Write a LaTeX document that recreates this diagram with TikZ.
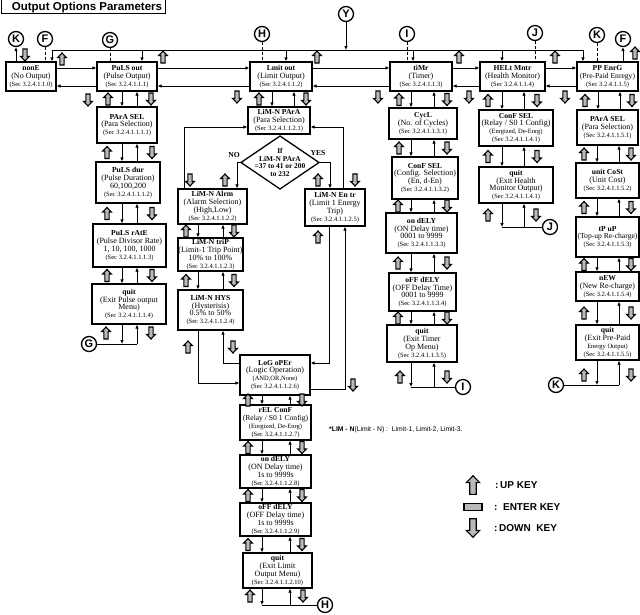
\documentclass[tikz,border=0pt]{standalone}
\usepackage{fontspec}
\setmainfont{Liberation Serif}
\newfontfamily\lsans{Liberation Sans}
\usetikzlibrary{arrows.meta,calc}

\newcommand\btit[1]{{\fontsize{7.6}{7.8}\selectfont\bfseries #1}}
\newcommand\stxt[1]{{\fontsize{6.5}{7.8}\selectfont #1}}

\tikzset{
 bx/.style={draw,line width=1.3pt,inner sep=0pt,align=center,fill=white,font=\fontsize{8}{7.8}\selectfont},
 ln/.style={line width=1pt},
 cn/.style={line width=1pt,-{Latex[length=4pt,width=3.6pt]}},
 dsh/.style={line width=1pt,dash pattern=on 3pt off 2pt},
 circ/.style={circle,draw,line width=1.3pt,minimum size=15pt,inner sep=0pt,fill=white,font=\lsans\bfseries\fontsize{11}{11}\selectfont},
 keyst/.style={draw=black,fill=gray!55,line width=1.1pt,line join=miter},
 upkey/.pic={\path[keyst] (0,-6) -- (4.3,-1.5) -- (2.1,-1.5) -- (2.1,6) -- (-2.1,6) -- (-2.1,-1.5) -- (-4.3,-1.5) -- cycle;},
 downkey/.pic={\path[keyst] (0,6) -- (4.3,1.5) -- (2.1,1.5) -- (2.1,-6) -- (-2.1,-6) -- (-2.1,1.5) -- (-4.3,1.5) -- cycle;},
}

\newcommand\mybox[6]{\node[bx,minimum width={#4-#2},minimum height={#5-#3}] (#1) at ({(#2+#4)/2},{(#3+#5)/2}) {#6};}
\newcommand\vlink[6]{%
 \draw[cn] (#1.south -| #3,0) -- (#2.north -| #3,0);
 \draw[cn] (#2.north -| #4,0) -- (#1.south -| #4,0);
 \pic at ($(#1.south -| #5,0)!0.5!(#2.north -| #5,0)$) {upkey};
 \pic at ($(#1.south -| #6,0)!0.5!(#2.north -| #6,0)$) {downkey};}
\newcommand\hlink[2]{%
 \draw[cn] (#1.east |- 0,68) -- (#2.west |- 0,68);
 \draw[cn] (#2.west |- 0,86) -- (#1.east |- 0,86);}

\begin{document}
\begin{tikzpicture}[x=1pt,y=-1pt]
\useasboundingbox (0,0) rectangle (640,614);
% title
\draw[line width=1pt] (1,-3) rectangle (165,13.5);
\node[anchor=base,inner sep=0pt,font=\lsans\bfseries\fontsize{11.5}{12}\selectfont] (title) at (87,10.5) {Output Options Parameters};

% circles (connectors)
\node[circ] (K1) at (16,39) {K};
\node[circ] (F1) at (45,39) {F};
\node[circ] (G1) at (110,40) {G};
\node[circ] (H1) at (262,34) {H};
\node[circ] (Y) at (346,14) {Y};
\node[circ] (I1) at (407,34) {I};
\node[circ] (J1) at (535,33) {J};
\node[circ] (K3) at (597,35) {K};
\node[circ] (F2) at (623,39) {F};
\node[circ] (G2) at (89,344) {G};
\node[circ] (H2) at (325,605) {H};
\node[circ] (I2) at (463,387) {I};
\node[circ] (J2) at (550,227) {J};
\node[circ] (K2) at (556,385) {K};

% top row
\mybox{nonE}{6}{62}{56}{91}{\btit{nonE}\\(No Output)\\\stxt{(Sec 3.2.4.1.1.0)}}
\mybox{pout}{97}{62}{157}{91}{\btit{PuLS out}\\(Pulse Output)\\\stxt{(Sec 3.2.4.1.1.1)}}
\mybox{lout}{250}{62}{312}{91}{\btit{Lmit out}\\(Limit Output)\\\stxt{(Sec 3.2.4.1.1.2)}}
\mybox{tmr}{390}{62}{452}{91}{\btit{tiMr}\\(Timer)\\\stxt{(Sec 3.2.4.1.1.3)}}
\mybox{helt}{480}{62}{545}{91}{\btit{HELt Mntr}\\(Health Monitor)\\\stxt{(Sec 3.2.4.1.1.4)}}
\mybox{pp}{577}{62}{638}{91}{\btit{PP EnrG}\\{\fontsize{7.6}{7.8}\selectfont(Pre-Paid Enregy)}\\\stxt{(Sec 3.2.4.1.1.5)}}

% pulse column
\mybox{psel}{97}{107}{157}{143}{\btit{PArA SEL}\\(Para Selection)\\\stxt{(Sec 3.2.4.1.1.1.1)}}
\mybox{pdur}{96}{162}{160}{203}{\btit{PuLS dur}\\(Pulse Duration)\\60,100,200\\\stxt{(Sec 3.2.4.1.1.1.2)}}
\mybox{prate}{93}{224}{166}{267}{\btit{PuLS rAtE}\\(Pulse Divisor Rate)\\1, 10, 100, 1000\\\stxt{(Sec 3.2.4.1.1.1.3)}}
\mybox{pquit}{92}{284}{166}{324}{\btit{quit}\\(Exit Pulse output\\Menu)\\\stxt{(Sec 3.2.4.1.1.1.4)}}

% limit column
\mybox{lpara}{248}{107}{310}{134}{\btit{LiM-N PArA}\\(Para Selection)\\\stxt{(Sec 3.2.4.1.1.2.1)}}
\mybox{alrm}{178}{189}{247}{224}{\btit{LiM-N Alrm}\\(Alarm Selection)\\(High,Low)\\\stxt{(Sec 3.2.4.1.1.2.2)}}
\mybox{trip}{178}{238}{243}{271}{\btit{LiM-N triP}\\(Limit-1 Trip Point)\\10\% to 100\%\\\stxt{(Sec 3.2.4.1.1.2.3)}}
\mybox{hys}{178}{290}{243}{330}{\btit{LiM-N HYS}\\(Hysterisis)\\0.5\% to 50\%\\\stxt{(Sec 3.2.4.1.1.2.4)}}
\mybox{entr}{305}{189}{365}{226}{\btit{LiM-N En tr}\\(Limit 1 Energy\\Trip)\\\stxt{(Sec 3.2.4.1.1.2.5)}}
\mybox{LoG}{240}{355}{310}{395}{\btit{LoG oPEr}\\(Logic Operation)\\\stxt{(AND,OR,None)}\\\stxt{(Sec 3.2.4.1.1.2.6)}}
\mybox{rel}{240}{405}{311}{440}{\btit{rEL ConF}\\{\fontsize{7.6}{7.8}\selectfont(Relay / S0 1 Config)}\\\stxt{(Enrgized, De-Enrg)}\\\stxt{(Sec 3.2.4.1.1.2.7)}}
\mybox{on}{240}{455}{311}{488}{\btit{on dELY}\\(ON Delay time)\\1s to 9999s\\\stxt{(Sec 3.2.4.1.1.2.8)}}
\mybox{off}{240}{503}{311}{536}{\btit{oFF dELY}\\(OFF Delay time)\\1s to 9999s\\\stxt{(Sec 3.2.4.1.1.2.9)}}
\mybox{lquit}{243}{553}{312}{588}{\btit{quit}\\(Exit Limit\\Output Menu)\\\stxt{(Sec 3.2.4.1.1.2.10)}}

% timer column
\mybox{cycl}{389}{108}{457}{139}{\btit{CycL}\\(No. of Cycles)\\\stxt{(Sec 3.2.4.1.1.3.1)}}
\mybox{csel}{392}{157}{458}{199}{\btit{ConF SEL}\\(Config. Selection)\\(En, d-En)\\\stxt{(Sec 3.2.4.1.1.3.2)}}
\mybox{ondly}{386}{213}{457}{253}{\btit{on dELY}\\(ON Delay time)\\0001 to 9999\\\stxt{(Sec 3.2.4.1.1.3.3)}}
\mybox{offdly}{389}{273}{456}{311}{\btit{oFF dELY}\\(OFF Delay Time)\\0001 to 9999\\\stxt{(Sec 3.2.4.1.1.3.4)}}
\mybox{tquit}{387}{325}{457}{362}{\btit{quit}\\(Exit Timer\\Op Menu)\\\stxt{(Sec 3.2.4.1.1.3.5)}}

% health column
\mybox{hconf}{479}{110}{553}{146}{\btit{ConF SEL}\\(Relay / S0 1 Config)\\\stxt{(Enrgized, De-Enrg)}\\\stxt{(Sec 3.2.4.1.1.4.1)}}
\mybox{hquit}{479}{167}{553}{203}{\btit{quit}\\(Exit Health\\Monitor Output)\\\stxt{(Sec 3.2.4.1.1.4.1)}}

% pre-paid column
\mybox{ppsel}{577}{110}{638}{145}{\btit{PArA SEL}\\(Para Selection)\\\stxt{(Sec 3.2.4.1.1.5.1)}}
\mybox{ucost}{576}{163}{639}{198}{\btit{unit CoSt}\\(Unit Cost)\\\stxt{(Sec 3.2.4.1.1.5.2)}}
\mybox{tpup}{576}{217}{639}{257}{\btit{tP uP}\\{\fontsize{7.6}{7.8}\selectfont(Top-up Re-charge)}\\\stxt{(Sec 3.2.4.1.1.5.3)}}
\mybox{nEW}{576}{272}{639}{301}{\btit{nEW}\\(New Re-charge)\\\stxt{(Sec 3.2.4.1.1.5.4)}}
\mybox{ppquit}{576}{325}{639}{360}{\btit{quit}\\(Exit Pre-Paid\\\stxt{Energy Output)}\\\stxt{(Sec 3.2.4.1.1.5.5)}}

% bus
\coordinate (bL) at (52,50);
\coordinate (bR) at (583,50);
\draw[ln] (bL) -- (bR);
\draw[cn] (bL) -- (nonE.north -| bL);
\draw[cn] (bR) -- (pp.north -| bR);
\foreach \n/\x in {pout/142,lout/286,tmr/413,helt/502} \draw[cn] (bL -| \x,0) -- (\n.north -| \x,0);
\draw[cn] (Y.south) -- (Y.south |- bL);

% circle stubs at top
\draw[cn] (nonE.north -| K1) -- (K1.south);
\draw[dsh] (F1.south) -- (nonE.north -| F1);
\draw[dsh] (G1.south) -- (pout.north -| G1);
\draw[dsh] (H1.south) -- (lout.north -| H1);
\draw[dsh] (I1.south) -- (tmr.north -| I1);
\draw[dsh] (J1.south) -- (helt.north -| J1);
\draw[dsh] (K3.south) -- (pp.north -| K3);
\draw[cn] (pp.north -| F2) -- (F2.south);

% top horizontal links
\hlink{nonE}{pout}
\hlink{pout}{lout}
\hlink{lout}{tmr}
\hlink{tmr}{helt}
\hlink{helt}{pp}

% top keys
\pic at (62,59) {upkey};
\pic at (163,57) {upkey};
\pic at (317,57) {upkey};
\pic at (459,57) {upkey};
\pic at (555,57) {upkey};
\pic at (635,53) {upkey};
\pic at (25,55) {downkey};
\pic at (88,100) {downkey};
\pic at (237,97) {downkey};
\pic at (378,97) {downkey};
\pic at (469,97) {downkey};
\pic at (565,97) {downkey};

% pulse column links
\vlink{pout}{psel}{122}{137}{108}{151}
\vlink{psel}{pdur}{122}{137}{107}{152}
\vlink{pdur}{prate}{122}{137}{107}{152}
\vlink{prate}{pquit}{122}{137}{107}{152}
\draw[ln] (G2.east) -- (G2.east -| 137,0);
\draw[cn] (pquit.south -| 122,0) -- (G2.east -| 122,0);
\draw[cn] (G2.east -| 137,0) -- (pquit.south -| 137,0);
\pic at (106,333) {upkey};
\pic at (151,333) {downkey};

% limit column
\vlink{lout}{lpara}{272}{294}{259}{306}
\coordinate (dt) at (280,136);
\coordinate (dr) at (319,162.5);
\coordinate (db) at (280,189);
\coordinate (dl) at (241,162.5);
\draw[line width=1.3pt,fill=white] (dt) -- (dr) -- (db) -- (dl) -- cycle;
\node[align=center,inner sep=0pt,font=\fontsize{7.4}{7.6}\selectfont\bfseries] (dia) at (280,162.5) {If\\LiM-N PArA\\=37 to 41 or 200\\to 232};
\node[inner sep=0pt,font=\fontsize{7.6}{7.6}\selectfont\bfseries] (no) at (234,155) {NO};
\node[inner sep=0pt,font=\fontsize{7.6}{7.6}\selectfont\bfseries] (yes) at (318,153) {YES};
\draw[cn] (dl) -| (alrm.north -| 237,0);
\draw[cn] (dr) -| (entr.north -| 330,0);
\draw[cn] (alrm.north -| 184,0) |- (lpara.west |- 0,127);
\draw[cn] (entr.north -| 343,0) |- (lpara.east |- 0,127);
\pic at (190,180) {downkey};
\pic at (225,180) {upkey};
\pic at (318,180) {upkey};
\pic at (355,180) {downkey};
\vlink{alrm}{trip}{198}{223}{186}{234}
\vlink{trip}{hys}{198}{223}{186}{234}
\draw[cn] (hys.south -| 198,0) |- (LoG.west |- 0,383);
\draw[cn] (LoG.west |- 0,363) -| (hys.south -| 223,0);
\pic at (188,347) {upkey};
\pic at (233,347) {downkey};
\draw[cn] (entr.south -| 329,0) |- (LoG.east |- 0,363);
\draw[cn] (LoG.east |- 0,389) -| (entr.south -| 345,0);
\pic at (318,237) {upkey};
\pic at (353,385) {downkey};
\vlink{LoG}{rel}{262}{290}{248}{302}
\vlink{rel}{on}{262}{290}{248}{302}
\vlink{on}{off}{262}{290}{248}{302}
\vlink{off}{lquit}{262}{290}{248}{302}
\draw[ln] (H2.west) -- (H2.west -| 262,0);
\draw[cn] (lquit.south -| 262,0) -- (H2.west -| 262,0);
\draw[cn] (H2.west -| 290,0) -- (lquit.south -| 290,0);
\pic at (250,596) {upkey};
\pic at (303,596) {downkey};

% timer column
\vlink{tmr}{cycl}{411}{434}{399}{447}
\vlink{cycl}{csel}{411}{434}{399}{447}
\vlink{csel}{ondly}{411}{434}{398}{447}
\vlink{ondly}{offdly}{411}{434}{398}{447}
\vlink{offdly}{tquit}{411}{434}{398}{447}
\draw[ln] (I2.west) -- (I2.west -| 411,0);
\draw[cn] (tquit.south -| 411,0) -- (I2.west -| 411,0);
\draw[cn] (I2.west -| 434,0) -- (tquit.south -| 434,0);
\pic at (400,377) {upkey};
\pic at (447,377) {downkey};

% health column
\vlink{helt}{hconf}{502}{524}{488}{537}
\vlink{hconf}{hquit}{502}{524}{488}{537}
\draw[ln] (J2.west) -- (J2.west -| 502,0);
\draw[cn] (hquit.south -| 502,0) -- (J2.west -| 502,0);
\draw[cn] (J2.west -| 524,0) -- (hquit.south -| 524,0);
\pic at (488,215) {upkey};
\pic at (536,215) {downkey};

% pre-paid column
\vlink{pp}{ppsel}{598}{620}{585}{632}
\vlink{ppsel}{ucost}{597}{619}{584}{631}
\vlink{ucost}{tpup}{597}{619}{584}{631}
\vlink{tpup}{nEW}{597}{619}{584}{631}
\vlink{nEW}{ppquit}{597}{619}{584}{631}
\draw[ln] (K2.east) -- (K2.east -| 619,0);
\draw[cn] (ppquit.south -| 597,0) -- (K2.east -| 597,0);
\draw[cn] (K2.east -| 619,0) -- (ppquit.south -| 619,0);
\pic at (584,375) {upkey};
\pic at (631,375) {downkey};

% footnote
\node[anchor=west,inner sep=0pt,font=\lsans\fontsize{6.8}{8}\selectfont] (note) at (329,430) {\textbf{*LIM - N}(Limit - N) :\ \ Limit-1, Limit-2, Limit-3.};

% legend
\pic[scale=1.55] at (473,485) {upkey};
\node[draw,fill=gray!55,line width=1.3pt,minimum width=18pt,minimum height=7pt,inner sep=0pt] (entkey) at (473,507) {};
\pic[scale=1.55] at (473,528) {downkey};
\node[anchor=west,inner sep=0pt,font=\lsans\bfseries\fontsize{10}{10}\selectfont] (upl) at (495,485) {:\,UP KEY};
\node[anchor=west,inner sep=0pt,font=\lsans\bfseries\fontsize{10}{10}\selectfont] (entl) at (494,507) {:\ \ ENTER KEY};
\node[anchor=west,inner sep=0pt,font=\lsans\bfseries\fontsize{10}{10}\selectfont] (dnl) at (494,528) {:\,DOWN\ \ KEY};
\end{tikzpicture}
\end{document}
